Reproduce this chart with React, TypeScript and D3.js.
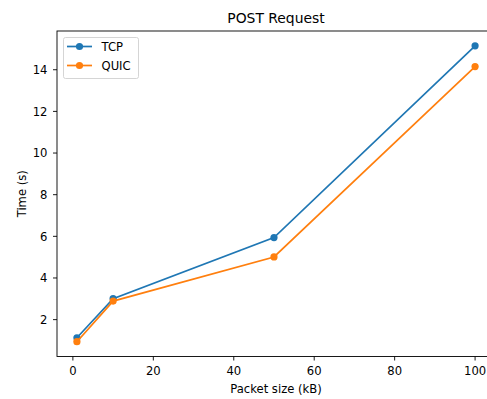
import React from "react";
import * as d3 from "d3";

const packetSizes = [1, 10, 50, 100];
const tcpTimes = [1.13, 3.01, 5.94, 15.15];
const quicTimes = [0.94, 2.89, 5.01, 14.15];
const xTicks = [0, 20, 40, 60, 80, 100];
const yTicks = [2, 4, 6, 8, 10, 12, 14];
const seriesNames = ["TCP", "QUIC"];
const seriesColors = ["#1f77b4", "#ff7f0e"];

const W = 487, H = 399;
const L = 57, R = 495, T = 31, B = 356.5;
const FONT = "DejaVu Sans, sans-serif";
const FS = 11.6;
const TFS = 13.9;

export default function App() {
  const allX = packetSizes;
  const allY = [...tcpTimes, ...quicTimes];
  const xmin = d3.min(allX)!, xmax = d3.max(allX)!;
  const ymin = d3.min(allY)!, ymax = d3.max(allY)!;
  const xm = (xmax - xmin) * 0.05, ym = (ymax - ymin) * 0.05;
  const x = d3.scaleLinear().domain([xmin - xm, xmax + xm]).range([L, R]);
  const y = d3.scaleLinear().domain([ymin - ym, ymax + ym]).range([B, T]);
  const line = d3.line<number>().x((_, i) => x(packetSizes[i])).y((d) => y(d));
  const series = [tcpTimes, quicTimes];

  return (
    <svg width={W} height={H} style={{ position: "absolute", left: 0, top: 0, background: "#fff" }} fontFamily={FONT}>
      <rect width={W} height={H} fill="#fff" />
      <text x={(L + R) / 2} y={23.3} textAnchor="middle" fontSize={TFS} fill="#000">POST Request</text>
      {series.map((s, si) => (
        <g key={si}>
          <path d={line(s)!} fill="none" stroke={seriesColors[si]} strokeWidth={1.7} />
          {s.map((v, i) => (
            <circle key={i} cx={x(packetSizes[i])} cy={y(v)} r={3.6} fill={seriesColors[si]} />
          ))}
        </g>
      ))}
      <rect x={L} y={T} width={R - L} height={B - T} fill="none" stroke="#000" strokeWidth={0.9} />
      {xTicks.map((t) => (
        <g key={t}>
          <line x1={x(t)} x2={x(t)} y1={B} y2={B + 4} stroke="#000" strokeWidth={0.9} />
          <text x={x(t)} y={375.3} textAnchor="middle" fontSize={FS} fill="#000">{t}</text>
        </g>
      ))}
      {yTicks.map((t) => (
        <g key={t}>
          <line x1={L} x2={L - 4} y1={y(t)} y2={y(t)} stroke="#000" strokeWidth={0.9} />
          <text x={L - 9.5} y={y(t) + 4.2} textAnchor="end" fontSize={FS} fill="#000">{t}</text>
        </g>
      ))}
      <text x={(L + R) / 2} y={392.5} textAnchor="middle" fontSize={FS} fill="#000">Packet size (kB)</text>
      <text transform={`translate(26,${(T + B) / 2}) rotate(-90)`} textAnchor="middle" fontSize={FS} fill="#000">Time (s)</text>
      <g>
        <rect x={63.5} y={37.5} width={75} height={41} rx={2} fill="#fff" fillOpacity={0.8} stroke="#d0d0d0" strokeWidth={0.9} />
        {seriesNames.map((n, i) => (
          <g key={n}>
            <line x1={67} x2={92} y1={46.5 + i * 19} y2={46.5 + i * 19} stroke={seriesColors[i]} strokeWidth={1.7} />
            <circle cx={79.5} cy={46.5 + i * 19} r={3.6} fill={seriesColors[i]} />
            <text x={101.5} y={50.6 + i * 19} fontSize={FS} fill="#000">{n}</text>
          </g>
        ))}
      </g>
    </svg>
  );
}
